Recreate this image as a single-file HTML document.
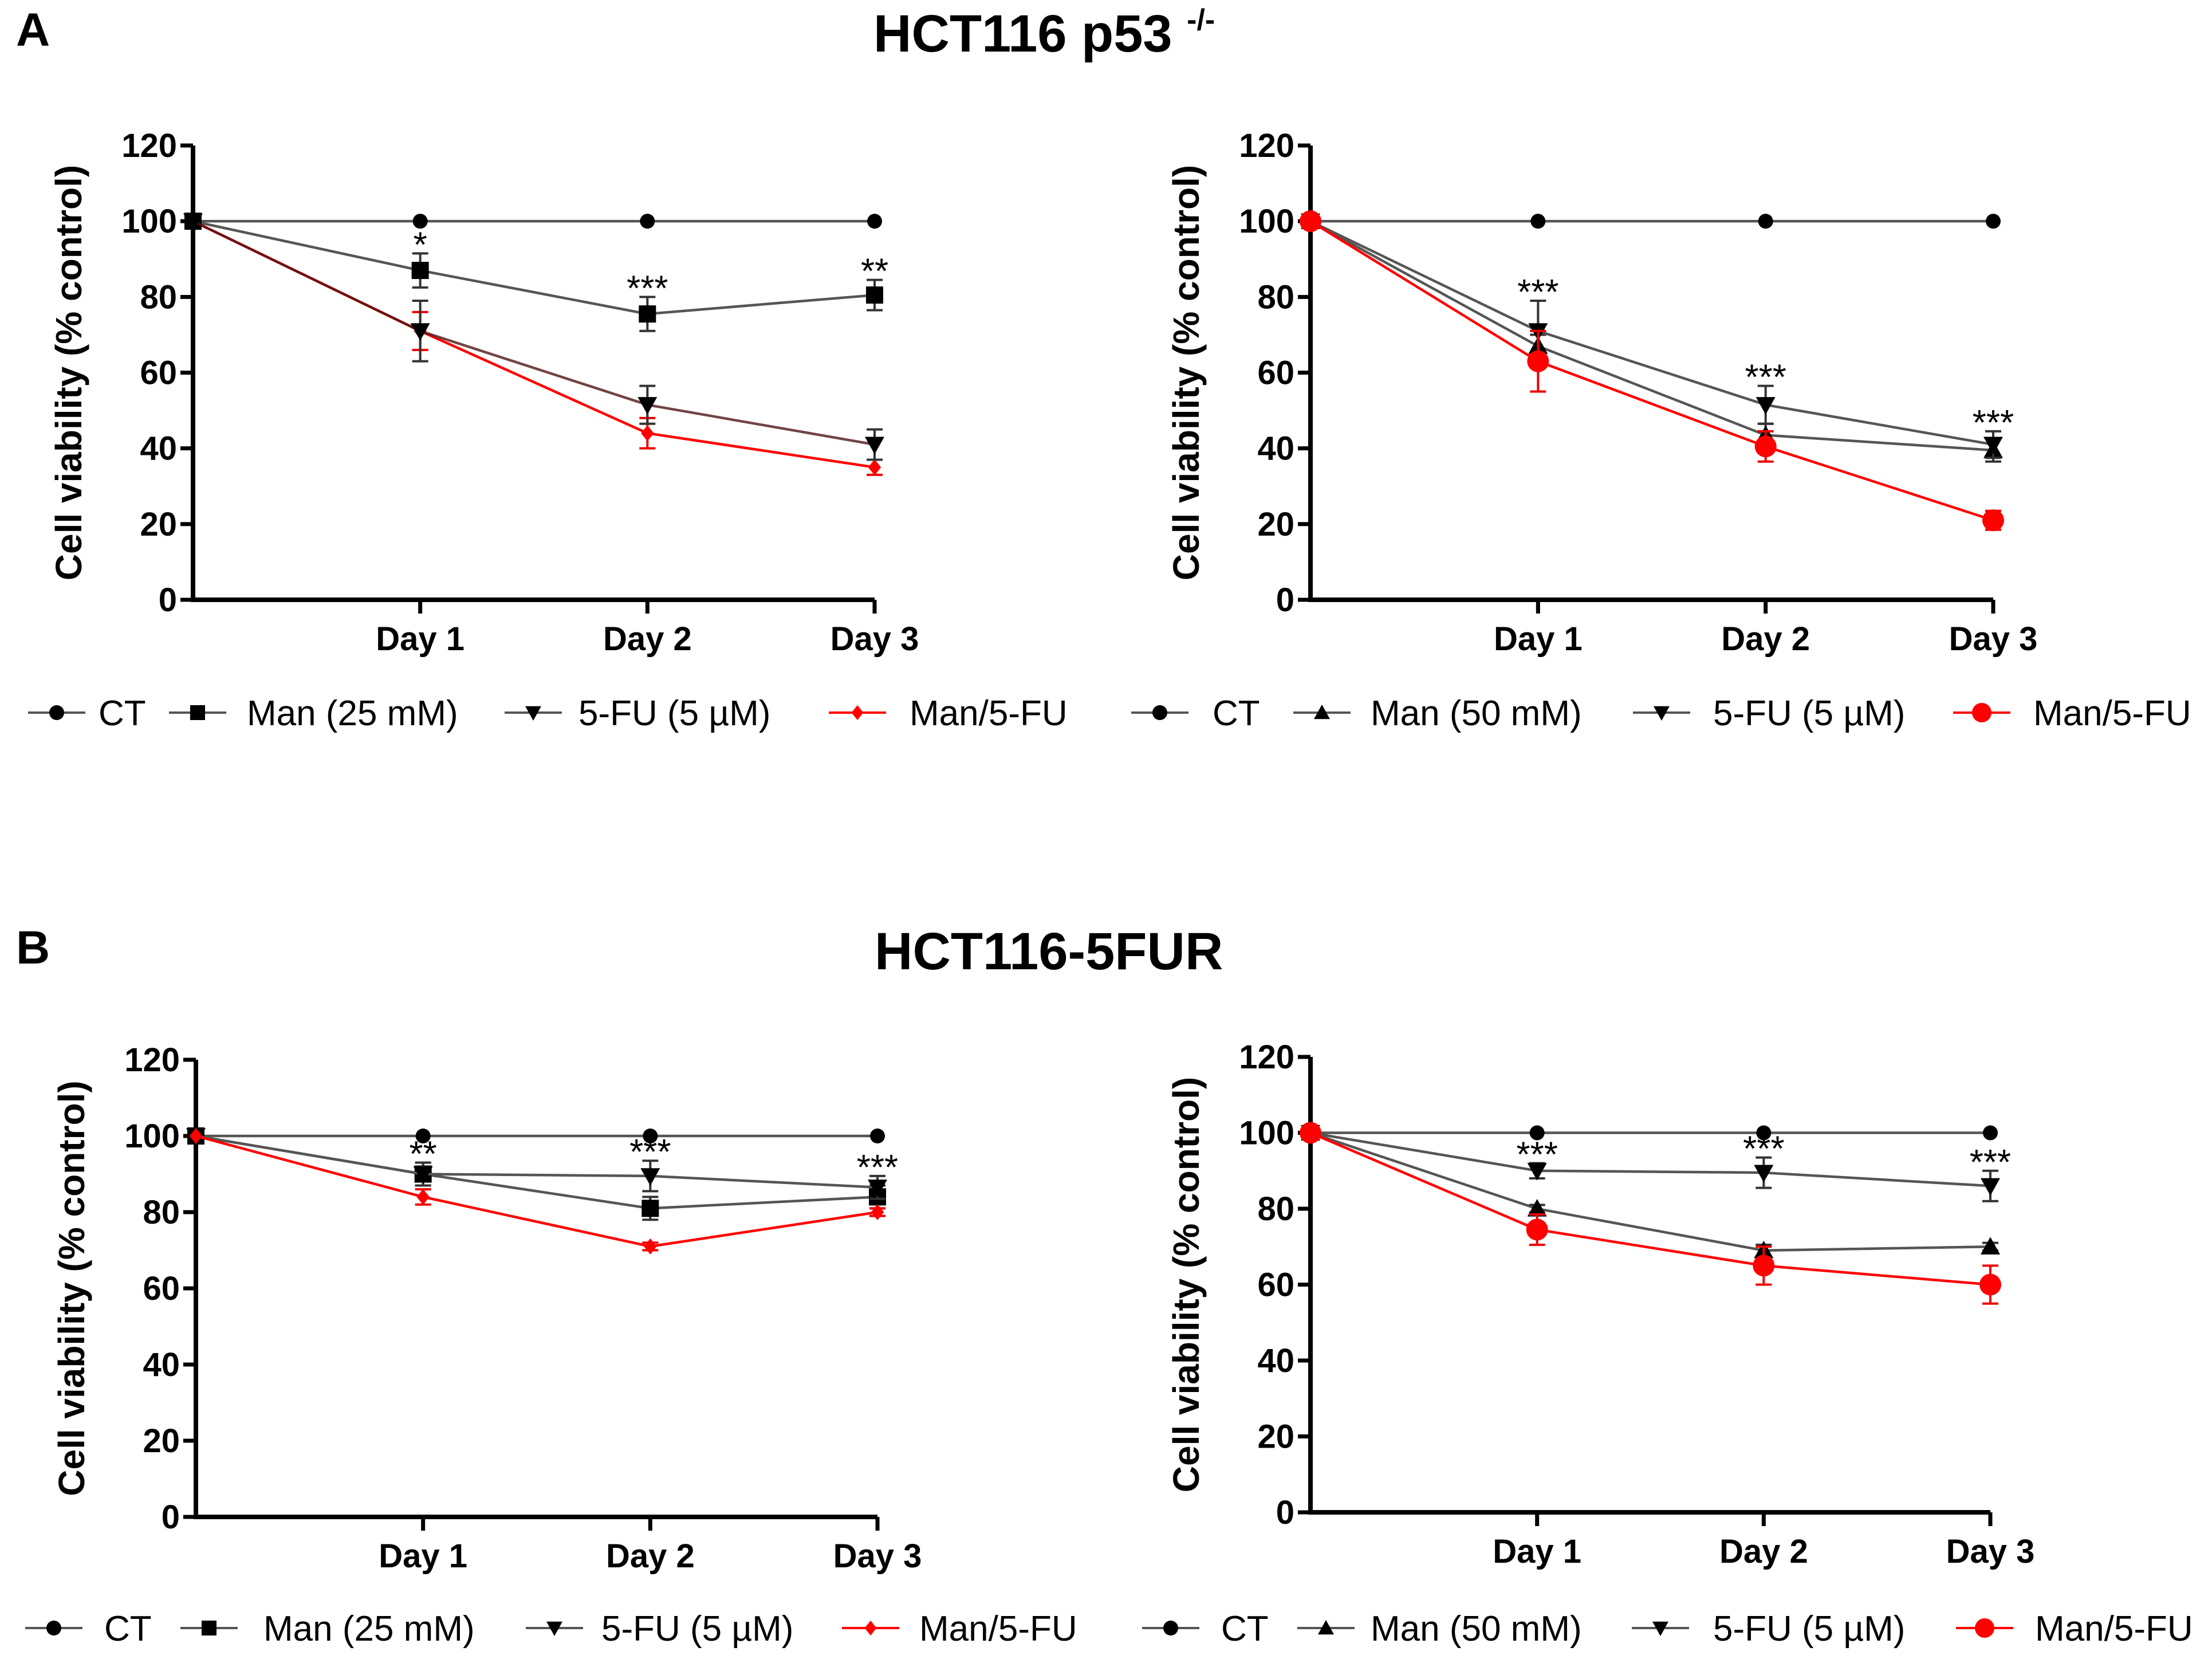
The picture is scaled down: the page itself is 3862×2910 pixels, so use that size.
<!DOCTYPE html>
<html><head><meta charset="utf-8"><style>
body{margin:0;background:#fff}
svg{display:block}
text{font-family:"Liberation Sans",sans-serif}
</style></head><body>
<svg id="fig" width="3862" height="2910" viewBox="0 0 3862 2910">
<text x="28" y="80" font-size="82" font-weight="bold">A</text>
<text x="1525" y="90" font-size="92" font-weight="bold">HCT116 p53 <tspan font-size="52" dy="-38">-/-</tspan></text>
<text x="28" y="1682" font-size="82" font-weight="bold">B</text>
<text x="1527" y="1692" font-size="92" font-weight="bold">HCT116-5FUR</text>
</svg>
<script>
// ---- data ----
const days = ["Day 1","Day 2","Day 3"];
const yTicks = [0,20,40,60,80,100,120];
// Panel A-left
const aL_ct = [100,100,100,100];
const aL_man = [100,87,75.5,80.5];
const aL_manErr = [0,4.5,4.5,4];
const aL_fu = [100,71,51.5,41];
const aL_fuErr = [0,8,5,4];
const aL_comb = [100,71,44,35];
const aL_combErr = [0,5,4,2];
const aL_stars = ["*","***","**"];
// Panel A-right
const aR_ct = [100,100,100,100];
const aR_man = [100,67,43.5,39.5];
const aR_manErr = [0,3,3,3];
const aR_fu = [100,71,51.5,41];
const aR_fuErr = [0,8,5,3.5];
const aR_comb = [100,63,40.5,21];
const aR_combErr = [0,8,4,2.5];
const aR_stars = ["***","***","***"];
// Panel B-left
const bL_ct = [100,100,100,100];
const bL_man = [100,90,81,84];
const bL_manErr = [0,3,3,3];
const bL_fu = [100,90,89.5,86.5];
const bL_fuErr = [0,3,4,3];
const bL_comb = [100,84,71,80];
const bL_combErr = [0,2,1,1];
const bL_stars = ["**","***","***"];
// Panel B-right
const bR_ct = [100,100,100,100];
const bR_man = [100,80,69,70];
const bR_manErr = [0,1,1.5,1];
const bR_fu = [100,90,89.5,86];
const bR_fuErr = [0,2,4,4];
const bR_comb = [100,74.5,65,60];
const bR_combErr = [0,4,5,5];
const bR_stars = ["***","***","***"];

const NS="http://www.w3.org/2000/svg";
const svg=document.getElementById('fig');
function mk(tag,attrs,parent,txt){const e=document.createElementNS(NS,tag);for(const k in attrs)e.setAttribute(k,attrs[k]);if(txt!==undefined)e.textContent=txt;(parent||svg).appendChild(e);return e;}

function marker(g,type,cx,cy,color,s){
  let e;
  if(type==='circle'){e=mk('circle',{cx:cx,cy:cy,r:s,fill:color},g);}
  else if(type==='square'){e=mk('rect',{x:cx-s,y:cy-s,width:2*s,height:2*s,fill:color},g);}
  else if(type==='down'){e=mk('polygon',{points:`${cx-s},${cy-s*0.8} ${cx+s},${cy-s*0.8} ${cx},${cy+s}`,fill:color},g);}
  else if(type==='up'){e=mk('polygon',{points:`${cx-s},${cy+s*0.8} ${cx+s},${cy+s*0.8} ${cx},${cy-s}`,fill:color},g);}
  else {e=mk('polygon',{points:`${cx},${cy-s} ${cx+s*0.8},${cy} ${cx},${cy+s} ${cx-s*0.8},${cy}`,fill:color},g);}
  return e;
}

function panel(name,x0,xd,y0,y120,series,stars,legend){
  const g=mk('g',{});
  
  
  const X=i=>x0+(xd-x0)/3*i;
  const Y=v=>y0+(y120-y0)*v/120;
  const ax=mk('path',{d:`M${x0},${Y(120)} V${y0} H${X(3)}`,stroke:'#000','stroke-width':8,fill:'none'},g);
  
  
  yTicks.forEach(t=>{
    mk('line',{x1:x0-22,x2:x0,y1:Y(t),y2:Y(t),stroke:'#000','stroke-width':7},g);
    const tl=mk('text',{x:x0-28,y:Y(t)+20,'font-size':58,'font-weight':'bold','text-anchor':'end'},g,t);
    
    
  });
  days.forEach((d,i)=>{
    mk('line',{x1:X(i+1),x2:X(i+1),y1:y0,y2:y0+24,stroke:'#000','stroke-width':7},g);
    const dl=mk('text',{x:X(i+1),y:y0+88,'font-size':58,'font-weight':'bold','text-anchor':'middle'},g,d);
    
    
  });
  const yt=mk('text',{x:0,y:0,'font-size':64,'font-weight':'bold','text-anchor':'middle',transform:`translate(${x0-195},${(y0+Y(120))/2}) rotate(-90)`},g,'Cell viability (% control)');
  
  
  series.forEach(s=>{
    const sg=mk('g',{},g);
    
    
    mk('polyline',{points:s.v.map((v,i)=>`${X(i)},${Y(v)}`).join(' '),fill:'none',stroke:s.line,'stroke-width':4.5},sg);
    s.v.forEach((v,i)=>{
      if(s.err&&s.err[i]>0){
        const e=s.err[i];
        mk('path',{d:`M${X(i)},${Y(v-e)} V${Y(v+e)} M${X(i)-14},${Y(v-e)} h28 M${X(i)-14},${Y(v+e)} h28`,stroke:s.color==='#ff0000'?'#e00':'#333','stroke-width':4,fill:'none'},sg);
      }
      const m=marker(sg,s.m,X(i),Y(v),s.color,s.size);
      
      
    });
  });
  stars.forEach((st,i)=>{
    let top=0;series.slice(1).forEach(s=>{top=Math.max(top,s.v[i+1]+(s.err?s.err[i+1]:0));});
    const t=mk('text',{x:X(i+1),y:Y(top)+6,'font-size':62,'text-anchor':'middle'},g,st);
    
    
  });
  legend.items.forEach(it=>{
    const lg=mk('g',{},g);
    
    
    mk('line',{x1:it.mx-50,x2:it.mx+50,y1:legend.y,y2:legend.y,stroke:it.line,'stroke-width':4},lg);
    marker(lg,it.m,it.mx,legend.y,it.color,it.size);
    mk('text',{x:it.tx,y:legend.y+22,'font-size':62},lg,it.label);
  });
}
const BLK='#000',LN='#555',RED='#ff0000';
panel('chart-a-left',337,1527,1047,254,[
 {id:'ct',v:aL_ct,m:'circle',color:BLK,line:LN,size:13},
 {id:'comb',v:aL_comb,err:aL_combErr,m:'diamond',color:RED,line:RED,size:14},
 {id:'man',v:aL_man,err:aL_manErr,m:'square',color:BLK,line:LN,size:15},
 {id:'fu',v:aL_fu,err:aL_fuErr,m:'down',color:BLK,line:'rgba(80,20,20,0.8)',size:17}],aL_stars,
 {y:1244,items:[
  {mx:99,tx:172,m:'circle',color:BLK,line:LN,size:13,label:'CT'},
  {mx:345,tx:431,m:'square',color:BLK,line:LN,size:13,label:'Man (25 mM)'},
  {mx:931,tx:1010,m:'down',color:BLK,line:LN,size:14,label:'5-FU (5 µM)'},
  {mx:1497,tx:1588,m:'diamond',color:RED,line:RED,size:13,label:'Man/5-FU'}]});
panel('chart-a-right',2288,3480,1047,254,[
 {id:'ct',v:aR_ct,m:'circle',color:BLK,line:LN,size:13},
 {id:'man',v:aR_man,err:aR_manErr,m:'up',color:BLK,line:LN,size:17},
 {id:'fu',v:aR_fu,err:aR_fuErr,m:'down',color:BLK,line:LN,size:17},
 {id:'comb',v:aR_comb,err:aR_combErr,m:'circle',color:RED,line:RED,size:19}],aR_stars,
 {y:1244,items:[
  {mx:2025,tx:2117,m:'circle',color:BLK,line:LN,size:13,label:'CT'},
  {mx:2308,tx:2393,m:'up',color:BLK,line:LN,size:14,label:'Man (50 mM)'},
  {mx:2901,tx:2991,m:'down',color:BLK,line:LN,size:14,label:'5-FU (5 µM)'},
  {mx:3460,tx:3550,m:'circle',color:RED,line:RED,size:17,label:'Man/5-FU'}]});
panel('chart-b-left',342,1532,2648,1850,[
 {id:'ct',v:bL_ct,m:'circle',color:BLK,line:LN,size:13},
 {id:'man',v:bL_man,err:bL_manErr,m:'square',color:BLK,line:LN,size:15},
 {id:'fu',v:bL_fu,err:bL_fuErr,m:'down',color:BLK,line:LN,size:17},
 {id:'comb',v:bL_comb,err:bL_combErr,m:'diamond',color:RED,line:RED,size:14}],bL_stars,
 {y:2842,items:[
  {mx:94,tx:182,m:'circle',color:BLK,line:LN,size:13,label:'CT'},
  {mx:365,tx:460,m:'square',color:BLK,line:LN,size:13,label:'Man (25 mM)'},
  {mx:968,tx:1050,m:'down',color:BLK,line:LN,size:14,label:'5-FU (5 µM)'},
  {mx:1520,tx:1605,m:'diamond',color:RED,line:RED,size:13,label:'Man/5-FU'}]});
panel('chart-b-right',2288,3475,2640,1845,[
 {id:'ct',v:bR_ct,m:'circle',color:BLK,line:LN,size:13},
 {id:'man',v:bR_man,err:bR_manErr,m:'up',color:BLK,line:LN,size:17},
 {id:'fu',v:bR_fu,err:bR_fuErr,m:'down',color:BLK,line:LN,size:17},
 {id:'comb',v:bR_comb,err:bR_combErr,m:'circle',color:RED,line:RED,size:19}],bR_stars,
 {y:2842,items:[
  {mx:2044,tx:2132,m:'circle',color:BLK,line:LN,size:13,label:'CT'},
  {mx:2315,tx:2393,m:'up',color:BLK,line:LN,size:14,label:'Man (50 mM)'},
  {mx:2899,tx:2991,m:'down',color:BLK,line:LN,size:14,label:'5-FU (5 µM)'},
  {mx:3465,tx:3553,m:'circle',color:RED,line:RED,size:17,label:'Man/5-FU'}]});
</script>
</body></html>
